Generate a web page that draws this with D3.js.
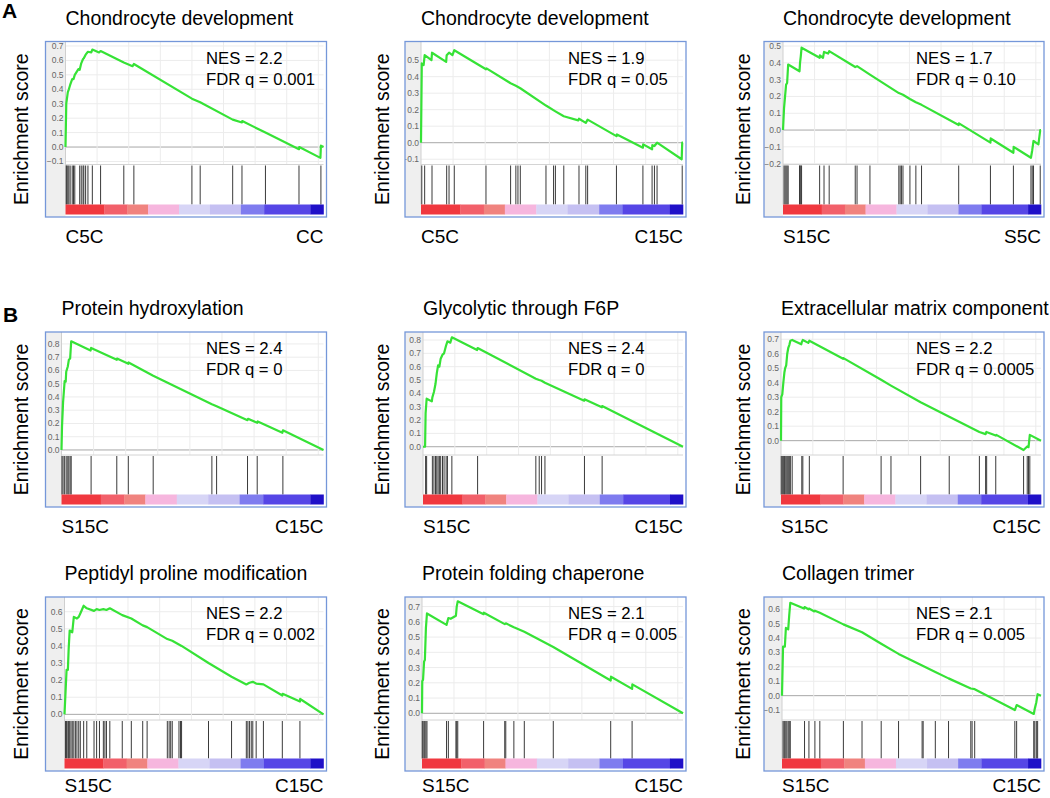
<!DOCTYPE html>
<html>
<head>
<meta charset="utf-8">
<script src="https://cdn.jsdelivr.net/npm/d3@7"></script>
<style>
  body { margin: 0; background: #fff; }
  svg { display: block; font-family: "Liberation Sans", Arial, sans-serif; }
</style>
</head>
<body>
<div id="chart"></div>
<script>
// ---- data ----
var titles = ["Chondrocyte development", "Chondrocyte development", "Chondrocyte development",
              "Protein hydroxylation", "Glycolytic through F6P", "Extracellular matrix component",
              "Peptidyl proline modification", "Protein folding chaperone", "Collagen trimer"];
var nesValues = ["2.2", "1.9", "1.7", "2.4", "2.4", "2.2", "2.2", "2.1", "2.1"];
var fdrValues = ["0.001", "0.05", "0.10", "0", "0", "0.0005", "0.002", "0.005", "0.005"];
var leftLabels = ["C5C", "C5C", "S15C", "S15C", "S15C", "S15C", "S15C", "S15C", "S15C"];
var rightLabels = ["CC", "C15C", "S5C", "C15C", "C15C", "C15C", "C15C", "C15C", "C15C"];

// enrichment score axis range of each panel
var esDomains = [[-0.121, 0.731], [-0.132, 0.613], [-0.205, 0.527],
                 [-0.038, 0.89], [-0.062, 0.86], [-0.099, 0.75],
                 [-0.033, 0.686], [-0.044, 0.763], [-0.169, 0.685]];

// running enrichment score: [rank fraction, ES]
var esCurves = [
  [[0,0],[0.003,0.30],[0.009,0.38],[0.013,0.40],[0.018,0.43],[0.026,0.47],[0.031,0.47],[0.036,0.50],[0.05,0.54],[0.055,0.535],[0.061,0.58],[0.068,0.61],[0.071,0.615],[0.078,0.64],[0.087,0.66],[0.10,0.655],[0.104,0.675],[0.13,0.655],[0.136,0.665],[0.226,0.585],[0.26,0.56],[0.265,0.575],[0.49,0.335],[0.522,0.31],[0.648,0.19],[0.684,0.17],[0.685,0.18],[0.775,0.10],[0.905,-0.015],[0.906,0.0],[0.988,-0.075],[0.99,0.01],[1,0]],
  [[0,0],[0.003,0.48],[0.01,0.47],[0.014,0.53],[0.04,0.50],[0.042,0.545],[0.096,0.49],[0.098,0.53],[0.107,0.545],[0.12,0.53],[0.127,0.56],[0.248,0.445],[0.25,0.45],[0.342,0.36],[0.362,0.345],[0.379,0.33],[0.477,0.225],[0.513,0.19],[0.545,0.16],[0.60,0.135],[0.603,0.145],[0.629,0.12],[0.636,0.14],[0.746,0.04],[0.748,0.05],[0.847,-0.03],[0.848,-0.01],[0.882,-0.04],[0.883,-0.015],[0.891,-0.02],[0.901,0.0],[0.995,-0.10],[0.997,0.0],[1,0]],
  [[0,0],[0.004,0.13],[0.008,0.2],[0.012,0.27],[0.016,0.28],[0.02,0.39],[0.064,0.35],[0.066,0.40],[0.069,0.44],[0.072,0.49],[0.142,0.43],[0.143,0.445],[0.155,0.43],[0.159,0.465],[0.175,0.455],[0.179,0.47],[0.28,0.375],[0.287,0.38],[0.337,0.33],[0.449,0.22],[0.465,0.21],[0.492,0.185],[0.515,0.165],[0.537,0.15],[0.681,0.03],[0.682,0.04],[0.804,-0.075],[0.805,-0.05],[0.893,-0.135],[0.894,-0.10],[0.961,-0.165],[0.966,-0.12],[0.971,-0.065],[0.99,-0.085],[0.997,0.0],[1,0]],
  [[0,0],[0.002,0.18],[0.006,0.36],[0.012,0.52],[0.016,0.515],[0.018,0.59],[0.024,0.63],[0.028,0.68],[0.033,0.69],[0.037,0.82],[0.111,0.75],[0.113,0.77],[0.211,0.68],[0.212,0.69],[0.255,0.65],[0.256,0.66],[0.35,0.56],[0.574,0.345],[0.592,0.33],[0.71,0.225],[0.712,0.235],[0.747,0.205],[0.749,0.215],[0.843,0.13],[0.845,0.148],[1,0]],
  [[0,0],[0.008,0.0],[0.01,0.25],[0.014,0.36],[0.034,0.34],[0.036,0.37],[0.042,0.41],[0.048,0.47],[0.053,0.55],[0.058,0.61],[0.063,0.60],[0.068,0.66],[0.075,0.69],[0.081,0.70],[0.089,0.76],[0.094,0.79],[0.105,0.78],[0.111,0.82],[0.208,0.725],[0.21,0.74],[0.434,0.51],[0.447,0.5],[0.456,0.495],[0.469,0.48],[0.62,0.345],[0.621,0.355],[0.688,0.295],[0.689,0.305],[1,0]],
  [[0,0],[0.001,0.30],[0.005,0.32],[0.009,0.40],[0.013,0.47],[0.016,0.50],[0.02,0.52],[0.024,0.60],[0.028,0.64],[0.032,0.66],[0.036,0.69],[0.043,0.695],[0.078,0.665],[0.08,0.68],[0.084,0.695],[0.105,0.675],[0.109,0.69],[0.239,0.565],[0.24,0.57],[0.385,0.42],[0.423,0.38],[0.537,0.265],[0.647,0.165],[0.763,0.06],[0.787,0.045],[0.79,0.06],[0.826,0.035],[0.828,0.04],[0.933,-0.065],[0.947,-0.04],[0.952,-0.045],[0.957,0.04],[1,0]],
  [[0,0],[0.004,0.13],[0.008,0.26],[0.013,0.26],[0.016,0.38],[0.02,0.49],[0.03,0.48],[0.036,0.57],[0.048,0.56],[0.055,0.57],[0.061,0.59],[0.074,0.635],[0.086,0.62],[0.114,0.605],[0.124,0.615],[0.135,0.61],[0.15,0.615],[0.162,0.61],[0.175,0.62],[0.223,0.58],[0.258,0.56],[0.302,0.52],[0.319,0.51],[0.397,0.44],[0.416,0.43],[0.452,0.40],[0.556,0.30],[0.645,0.22],[0.702,0.175],[0.714,0.185],[0.727,0.19],[0.74,0.18],[0.768,0.175],[0.841,0.11],[0.842,0.12],[0.909,0.075],[0.91,0.09],[1,0]],
  [[0,0],[0.001,0.21],[0.004,0.22],[0.008,0.34],[0.011,0.35],[0.015,0.56],[0.019,0.655],[0.094,0.58],[0.101,0.625],[0.11,0.62],[0.13,0.64],[0.133,0.70],[0.137,0.735],[0.236,0.65],[0.237,0.66],[0.317,0.585],[0.321,0.59],[0.352,0.565],[0.392,0.535],[0.503,0.435],[0.723,0.215],[0.724,0.24],[0.805,0.16],[0.806,0.19],[1,0]],
  [[0,0],[0.004,0.34],[0.011,0.34],[0.015,0.47],[0.024,0.46],[0.028,0.56],[0.032,0.645],[0.085,0.605],[0.087,0.615],[0.102,0.60],[0.104,0.605],[0.125,0.585],[0.127,0.59],[0.146,0.575],[0.237,0.495],[0.309,0.44],[0.383,0.36],[0.45,0.29],[0.541,0.21],[0.592,0.165],[0.643,0.12],[0.729,0.05],[0.744,0.045],[0.899,-0.10],[0.906,-0.065],[0.972,-0.127],[0.976,-0.09],[0.982,-0.045],[0.987,0.01],[1,0]]
];

// positions of the gene set members in the ranked list (fraction)
var hitRanks = [
  [0.003,0.005,0.009,0.013,0.018,0.026,0.031,0.036,0.055,0.061,0.068,0.071,0.078,0.087,0.104,0.136,0.226,0.265,0.49,0.522,0.648,0.684,0.775,0.905,0.99],
  [0.003,0.014,0.042,0.098,0.107,0.127,0.248,0.342,0.362,0.37,0.379,0.477,0.506,0.513,0.545,0.603,0.629,0.636,0.746,0.847,0.882,0.891,0.901,0.997],
  [0.004,0.008,0.012,0.016,0.02,0.064,0.066,0.069,0.072,0.142,0.159,0.179,0.28,0.287,0.337,0.449,0.454,0.459,0.465,0.492,0.515,0.537,0.681,0.804,0.893,0.961,0.966,0.971,0.997],
  [0.002,0.006,0.012,0.018,0.024,0.028,0.033,0.037,0.113,0.211,0.255,0.35,0.574,0.592,0.71,0.747,0.845],
  [0.01,0.014,0.036,0.042,0.048,0.053,0.058,0.063,0.068,0.075,0.081,0.089,0.094,0.111,0.21,0.434,0.447,0.456,0.469,0.621,0.689],
  [0.001,0.005,0.009,0.013,0.016,0.02,0.024,0.028,0.032,0.036,0.043,0.08,0.084,0.109,0.239,0.385,0.423,0.537,0.647,0.763,0.787,0.791,0.826,0.933,0.947,0.952,0.957],
  [0.004,0.008,0.013,0.016,0.02,0.025,0.03,0.036,0.042,0.048,0.055,0.061,0.074,0.086,0.114,0.124,0.135,0.15,0.156,0.162,0.175,0.223,0.258,0.302,0.319,0.397,0.404,0.41,0.416,0.442,0.448,0.452,0.556,0.645,0.702,0.708,0.714,0.721,0.727,0.74,0.768,0.841,0.909],
  [0.001,0.004,0.008,0.011,0.015,0.019,0.094,0.101,0.13,0.133,0.137,0.236,0.317,0.321,0.352,0.392,0.503,0.723,0.805],
  [0.004,0.008,0.011,0.015,0.019,0.024,0.028,0.032,0.087,0.104,0.127,0.146,0.237,0.309,0.383,0.45,0.541,0.545,0.592,0.643,0.729,0.734,0.744,0.899,0.906,0.972,0.976,0.982,0.987]
];

// ranked-list heat bar: segment boundaries (fraction)
var barBreaks = [0, 0.15, 0.24, 0.32, 0.44, 0.56, 0.68, 0.77, 0.95, 1];

// ---- layout ----
var barColors = ["#f0383f", "#f2606a", "#f0837f", "#f6b6de", "#d7d5f6", "#c5c0f2", "#7f7cef", "#5646e6", "#1f10c8"];
var colBox = [[45.5, 326.5], [405, 686], [764, 1044]];
var rowBox = [[41.5, 217], [332, 507], [597, 771]];
var stripW = [20, 16, 19, 16, 18, 17, 19, 17, 18];
var nesX = [206, 568, 916];
var yLabelX = [21, 382, 743];

var svg = d3.select("#chart")
    .append("svg")
    .attr("width", 1050)
    .attr("height", 798);

// panel letters
svg.append("text").attr("x", 2).attr("y", 18).text("A")
    .style("font-size", "21px").style("font-weight", "bold");
svg.append("text").attr("x", 3).attr("y", 321.5).text("B")
    .style("font-size", "21px").style("font-weight", "bold");

titles.forEach(function (title, i) {
    var col = i % 3, row = Math.floor(i / 3);
    var bx0 = colBox[col][0], bx1 = colBox[col][1];
    var by0 = rowBox[row][0], by1 = rowBox[row][1];
    var dx0 = bx0 + stripW[i], dx1 = bx1 - 3;
    var esTop = by0, esBot = by0 + 123;
    var barTop = by1 - 12.5, barBot = by1 - 2.5;

    var x = d3.scaleLinear().domain([0, 1]).range([dx0, dx1]);
    var y = d3.scaleLinear().domain(esDomains[i]).range([esBot, esTop]);

    var g = svg.append("g");
    var clipId = "clip" + i;
    g.append("clipPath").attr("id", clipId)
        .append("rect").attr("x", bx0).attr("y", by0).attr("width", bx1 - bx0).attr("height", by1 - by0);

    // background + left strip
    g.append("rect").attr("x", bx0).attr("y", by0).attr("width", bx1 - bx0).attr("height", by1 - by0)
        .attr("fill", "#fff");
    g.append("rect").attr("x", bx0).attr("y", by0).attr("width", dx0 - bx0).attr("height", by1 - by0)
        .attr("fill", "#efefef");

    // grid lines
    var lo = esDomains[i][0], hi = esDomains[i][1];
    var tickVals = d3.range(Math.ceil(lo * 10 - 1e-6), Math.floor(hi * 10 + 1e-6) + 1)
        .map(function (k) { return k / 10; })
        .filter(function (t) { return y(t) > esTop + 3.5; });
    g.selectAll(".hgrid").data(tickVals).enter().append("line")
        .attr("x1", dx0).attr("x2", dx1)
        .attr("y1", function (d) { return y(d); }).attr("y2", function (d) { return y(d); })
        .attr("stroke", function (d) { return d === 0 ? "#a8a8a8" : "#ececec"; })
        .attr("stroke-width", 1);
    g.selectAll(".vgrid").data(d3.range(1, 9)).enter().append("line")
        .attr("x1", function (d) { return x(d * 0.1225); }).attr("x2", function (d) { return x(d * 0.1225); })
        .attr("y1", esTop).attr("y2", esBot)
        .attr("stroke", "#ececec");
    g.append("line").attr("x1", dx0).attr("x2", dx1).attr("y1", esBot).attr("y2", esBot)
        .attr("stroke", "#d4d4d4");
    g.append("line").attr("x1", dx0).attr("x2", dx0).attr("y1", by0).attr("y2", barTop)
        .attr("stroke", "#cfcfcf");

    // tick labels
    g.append("g").attr("clip-path", "url(#" + clipId + ")")
        .selectAll("text").data(tickVals).enter().append("text")
        .attr("x", dx0 - 2)
        .attr("y", function (d) { return y(d) + 3; })
        .attr("text-anchor", "end")
        .style("font-size", "8.5px")
        .style("fill", "#666")
        .text(function (d) { return d3.format(".1f")(d); });

    // hits
    g.selectAll(".hit").data(hitRanks[i]).enter().append("line")
        .attr("x1", function (d) { return x(d); }).attr("x2", function (d) { return x(d); })
        .attr("y1", esBot + 1).attr("y2", barTop)
        .attr("stroke", "#3a3a3a").attr("stroke-width", 1);

    // ranked list heat bar
    g.selectAll(".seg").data(barColors).enter().append("rect")
        .attr("x", function (d, k) { return x(barBreaks[k]); })
        .attr("width", function (d, k) { return x(barBreaks[k + 1]) - x(barBreaks[k]) + 0.3; })
        .attr("y", barTop).attr("height", barBot - barTop)
        .attr("fill", function (d) { return d; });

    // running enrichment score
    var line = d3.line()
        .x(function (d) { return x(d[0]); })
        .y(function (d) { return y(d[1]); });
    g.append("path").datum(esCurves[i])
        .attr("d", line)
        .attr("fill", "none")
        .attr("stroke", "#36e236")
        .attr("stroke-width", 2.2)
        .attr("stroke-linejoin", "round");

    // frame
    g.append("rect").attr("x", bx0).attr("y", by0).attr("width", bx1 - bx0).attr("height", by1 - by0)
        .attr("fill", "none").attr("stroke", "#7597d9").attr("stroke-width", 1.3);

    // texts
    var labelY = Math.min(by1 + 26, 792);
    g.append("text").attr("x", dx0).attr("y", by0 - 17).text(title)
        .style("font-size", "19.5px");
    g.append("text").attr("x", nesX[col]).attr("y", by0 + 22).text("NES = " + nesValues[i])
        .style("font-size", "16.7px");
    g.append("text").attr("x", nesX[col]).attr("y", by0 + 43).text("FDR q = " + fdrValues[i])
        .style("font-size", "16.7px");
    g.append("text").attr("x", dx0).attr("y", labelY).text(leftLabels[i])
        .style("font-size", "19px");
    g.append("text").attr("x", dx1).attr("y", labelY).text(rightLabels[i])
        .attr("text-anchor", "end")
        .style("font-size", "19px");
    g.append("text")
        .attr("transform", "translate(" + yLabelX[col] + "," + ((by0 + by1) / 2) + ") rotate(-90)")
        .attr("text-anchor", "middle")
        .attr("dy", "0.35em")
        .text("Enrichment score")
        .style("font-size", "19.5px");
});
</script>
</body>
</html>
